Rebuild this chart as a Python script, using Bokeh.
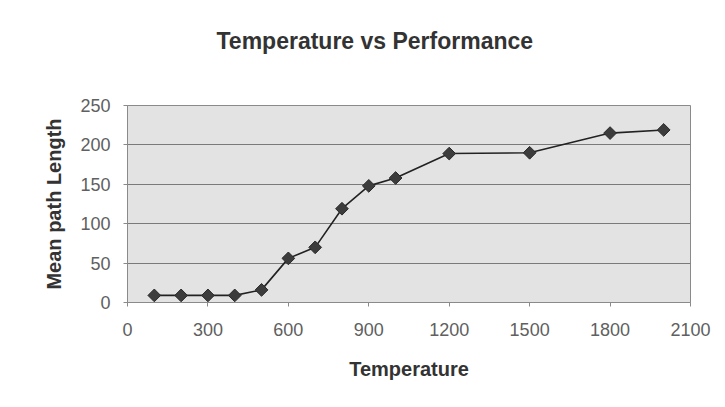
import math
from bokeh.plotting import figure
from bokeh.models import FixedTicker, Range1d, Title
from bokeh.embed import file_html
from bokeh.resources import INLINE

temperature = [100, 200, 300, 400, 500, 600, 700, 800, 900, 1000, 1200, 1500, 1800, 2000]
mean_path_length = [9, 9, 9, 9, 16, 56, 70, 119, 148, 158, 189, 190, 215, 219]
x_ticks = [0, 300, 600, 900, 1200, 1500, 1800, 2100]
y_ticks = [0, 50, 100, 150, 200, 250]
chart_title = "Temperature vs Performance"

p = figure(width=725, height=407, output_backend="svg", toolbar_location=None,
           x_range=Range1d(0, 2100), y_range=Range1d(0, 250),
           min_border_left=127, min_border_right=35, min_border_top=105, min_border_bottom=105,
           title=chart_title)

p.background_fill_color = "#e3e3e3"
p.border_fill_color = "white"
p.outline_line_color = "#8a8a8a"
p.outline_line_width = 1

p.title.align = "left"
p.title.offset = 89
p.title.standoff = 0
p.title.text_font = "Liberation Sans"
p.title.text_font_size = "23px"
p.title.text_font_style = "bold"
p.title.text_color = "#333333"

spacer = Title(text=" ", text_font_size="2px", standoff=48)
p.add_layout(spacer, "above")

p.xgrid.visible = False
p.ygrid.grid_line_color = "#7a7a7a"
p.ygrid.grid_line_width = 1

p.xaxis.ticker = FixedTicker(ticks=x_ticks)
p.yaxis.ticker = FixedTicker(ticks=y_ticks)
for ax in (p.xaxis, p.yaxis):
    ax.minor_tick_line_color = None
    ax.major_tick_in = 0
    ax.major_tick_out = 4
    ax.major_tick_line_color = "#8a8a8a"
    ax.axis_line_color = "#8a8a8a"
    ax.major_label_text_font = "Liberation Sans"
    ax.major_label_text_font_size = "18px"
    ax.major_label_text_color = "#606060"
    ax.axis_label_text_font = "Liberation Sans"
    ax.axis_label_text_font_size = "20px"
    ax.axis_label_text_font_style = "bold"
    ax.axis_label_text_color = "#333333"

p.xaxis.axis_label = "Temperature"
p.yaxis.axis_label = "Mean path Length"
p.xaxis.major_label_standoff = 16
p.xaxis.axis_label_standoff = 19
p.yaxis.major_label_standoff = 13
p.yaxis.axis_label_standoff = 12

p.line(temperature, mean_path_length, line_color="#222222", line_width=1.6)
p.scatter(temperature, mean_path_length, marker="square", angle=math.pi / 4, size=9,
          fill_color="#3c3c3c", line_color="#2a2a2a")

open("out.html", "w").write(file_html(p, INLINE))
